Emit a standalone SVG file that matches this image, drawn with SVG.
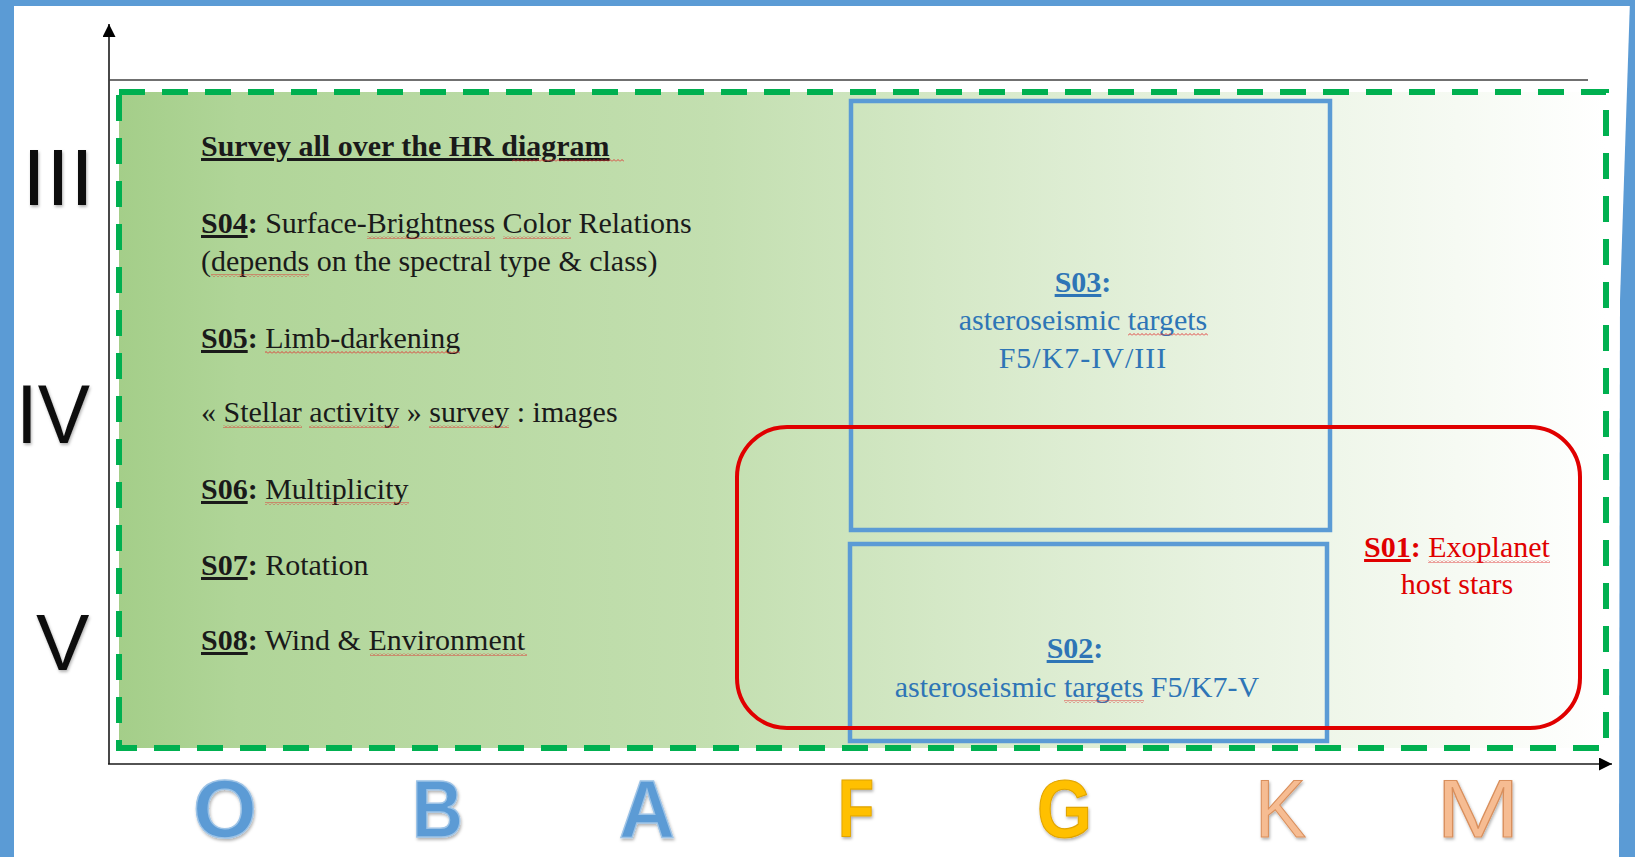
<svg xmlns="http://www.w3.org/2000/svg" width="1635" height="857" viewBox="0 0 1635 857">
<defs>
<style>
.t{font-family:"Liberation Serif","Times New Roman",serif;font-size:30px;fill:#1a1a1a}
.b{font-weight:bold}
.u{text-decoration:underline}
.blue{fill:#2E75B6}
.red{fill:#E00000}
.rom{font-family:"Liberation Sans",Arial,sans-serif;fill:#111}
.sp{font-family:"Liberation Sans",Arial,sans-serif;font-size:82px}
.ax{stroke:#1a1a1a;stroke-width:1.6;fill:none}
.wave{fill:url(#wave)}
.bbox{fill:none;stroke:#5B9BD5;stroke-width:4.5}
</style>
<linearGradient id="bg" x1="0" y1="0" x2="1" y2="0">
<stop offset="0" stop-color="#a4ce89"/>
<stop offset="0.08" stop-color="#b0d598"/>
<stop offset="0.4" stop-color="#c3dfb0"/>
<stop offset="0.55" stop-color="#d4e8c6"/>
<stop offset="0.75" stop-color="#e9f3e2"/>
<stop offset="0.9" stop-color="#f6faf3"/>
<stop offset="1" stop-color="#ffffff"/>
</linearGradient>
<pattern id="wave" x="0" y="0" width="4" height="3" patternUnits="userSpaceOnUse">
<path d="M0,2.5 L2,0.5 L4,2.5" fill="none" stroke="#E03030" stroke-width="0.9"/>
</pattern>
<marker id="arr" viewBox="0 0 10 10" refX="10" refY="5" markerWidth="13" markerHeight="13" markerUnits="userSpaceOnUse" orient="auto">
<path d="M0,0 L10,5 L0,10 Z" fill="#000"/>
</marker>
<filter id="sh" x="-20%" y="-20%" width="140%" height="140%">
<feDropShadow dx="1" dy="2" stdDeviation="1.5" flood-color="#000" flood-opacity="0.3"/>
</filter>
</defs>
<rect width="1635" height="857" fill="#ffffff"/>
<g id="frame" fill="#5B9BD5">
<rect x="0" y="0" width="14" height="857"/>
<rect x="0" y="0" width="1635" height="6"/>
<polygon points="1630,0 1635,0 1635,857 1619,857 1620,300"/>
</g>
<g id="survey-region">
<rect x="119" y="92" width="1487" height="656" fill="url(#bg)"/>
<rect x="119" y="92" width="1487" height="656" fill="none" stroke="#00B050" stroke-width="6" stroke-dasharray="26 17"/>
</g>
<g id="connectors">
<line class="ax" x1="109" y1="764" x2="109" y2="24" marker-end="url(#arr)"/>
<line class="ax" x1="108" y1="764" x2="1612" y2="764" marker-end="url(#arr)"/>
<line x1="109" y1="80" x2="1588" y2="80" stroke="#404040" stroke-width="1.6"/>
</g>
<g id="class-labels" filter="url(#sh)">
<text class="rom" x="22" y="205" font-size="80" textLength="72" lengthAdjust="spacingAndGlyphs">III</text>
<text class="rom" x="16" y="443" font-size="84" textLength="74" lengthAdjust="spacingAndGlyphs">IV</text>
<text class="rom" x="36" y="670" font-size="80">V</text>
</g>
<g id="type-labels" filter="url(#sh)">
<text class="sp" x="225" y="837" text-anchor="middle" font-weight="bold" fill="#5B9BD5" stroke="#9DC3E6" stroke-width="1.5">O</text>
<text class="sp" x="412" y="837" font-weight="bold" fill="#5B9BD5" stroke="#9DC3E6" stroke-width="1.5" textLength="51" lengthAdjust="spacingAndGlyphs">B</text>
<text class="sp" x="619" y="837" font-weight="bold" fill="#5B9BD5" stroke="#9DC3E6" stroke-width="1.5" textLength="56" lengthAdjust="spacingAndGlyphs">A</text>
<text class="sp" x="838" y="837" font-weight="bold" fill="#FFC000" stroke="#E0A400" stroke-width="1.2" textLength="36" lengthAdjust="spacingAndGlyphs">F</text>
<text class="sp" x="1037" y="837" font-weight="bold" fill="#FFC000" stroke="#E0A400" stroke-width="1.2" textLength="55" lengthAdjust="spacingAndGlyphs">G</text>
<text class="sp" x="1255" y="837" fill="#F6BC92" stroke="#D98F5C" stroke-width="1.1" textLength="51" lengthAdjust="spacingAndGlyphs">K</text>
<text class="sp" x="1436" y="837" fill="#F6BC92" stroke="#D98F5C" stroke-width="1.1" textLength="84" lengthAdjust="spacingAndGlyphs">M</text>
</g>
<g id="survey-text">
<text class="t b u" x="201" y="156" font-size="31">Survey all over the HR diagram</text>
<rect class="wave" x="512" y="159" width="112" height="3"/>
<text class="t" x="201" y="233"><tspan class="b u">S04</tspan><tspan class="b">:</tspan> Surface-Brightness Color Relations</text>
<rect class="wave" x="367" y="236" width="128" height="3"/>
<rect class="wave" x="503" y="236" width="68" height="3"/>
<text class="t" x="201" y="271">(depends on the spectral type &amp; class)</text>
<rect class="wave" x="211" y="274" width="98" height="3"/>
<text class="t" x="201" y="348"><tspan class="b u">S05</tspan><tspan class="b">:</tspan> Limb-darkening</text>
<rect class="wave" x="265" y="351" width="195" height="3"/>
<text class="t" x="201" y="422">« Stellar activity » survey : images</text>
<rect class="wave" x="223" y="425" width="79" height="3"/>
<rect class="wave" x="309" y="425" width="90" height="3"/>
<rect class="wave" x="429" y="425" width="80" height="3"/>
<text class="t" x="201" y="499"><tspan class="b u">S06</tspan><tspan class="b">:</tspan> Multiplicity</text>
<rect class="wave" x="265" y="502" width="144" height="3"/>
<text class="t" x="201" y="575"><tspan class="b u">S07</tspan><tspan class="b">:</tspan> Rotation</text>
<text class="t" x="201" y="650"><tspan class="b u">S08</tspan><tspan class="b">:</tspan> Wind &amp; Environment</text>
<rect class="wave" x="370" y="653" width="157" height="3"/>
</g>
<g id="box-s03">
<rect class="bbox" x="851" y="101" width="479" height="429"/>
<text class="t blue" x="1083" y="292" text-anchor="middle"><tspan class="b u">S03</tspan><tspan class="b">:</tspan></text>
<text class="t blue" x="1083" y="330" text-anchor="middle">asteroseismic targets</text>
<rect class="wave" x="1128" y="333" width="80" height="3"/>
<text class="t blue" x="1083" y="368" text-anchor="middle" letter-spacing="1">F5/K7-IV/III</text>
</g>
<g id="box-s02">
<rect class="bbox" x="850" y="544" width="477" height="197"/>
<text class="t blue" x="1075" y="658" text-anchor="middle"><tspan class="b u">S02</tspan><tspan class="b">:</tspan></text>
<text class="t blue" x="1077" y="697" text-anchor="middle">asteroseismic targets F5/K7-V</text>
<rect class="wave" x="1064" y="700" width="80" height="3"/>
</g>
<g id="box-s01">
<rect x="737" y="427" width="843" height="301" rx="50" ry="50" fill="none" stroke="#E00000" stroke-width="4"/>
<text class="t red" x="1457" y="557" text-anchor="middle"><tspan class="b u">S01</tspan><tspan class="b">:</tspan> Exoplanet</text>
<rect class="wave" x="1428" y="560" width="122" height="3"/>
<text class="t red" x="1457" y="594" text-anchor="middle">host stars</text>
</g>
</svg>
